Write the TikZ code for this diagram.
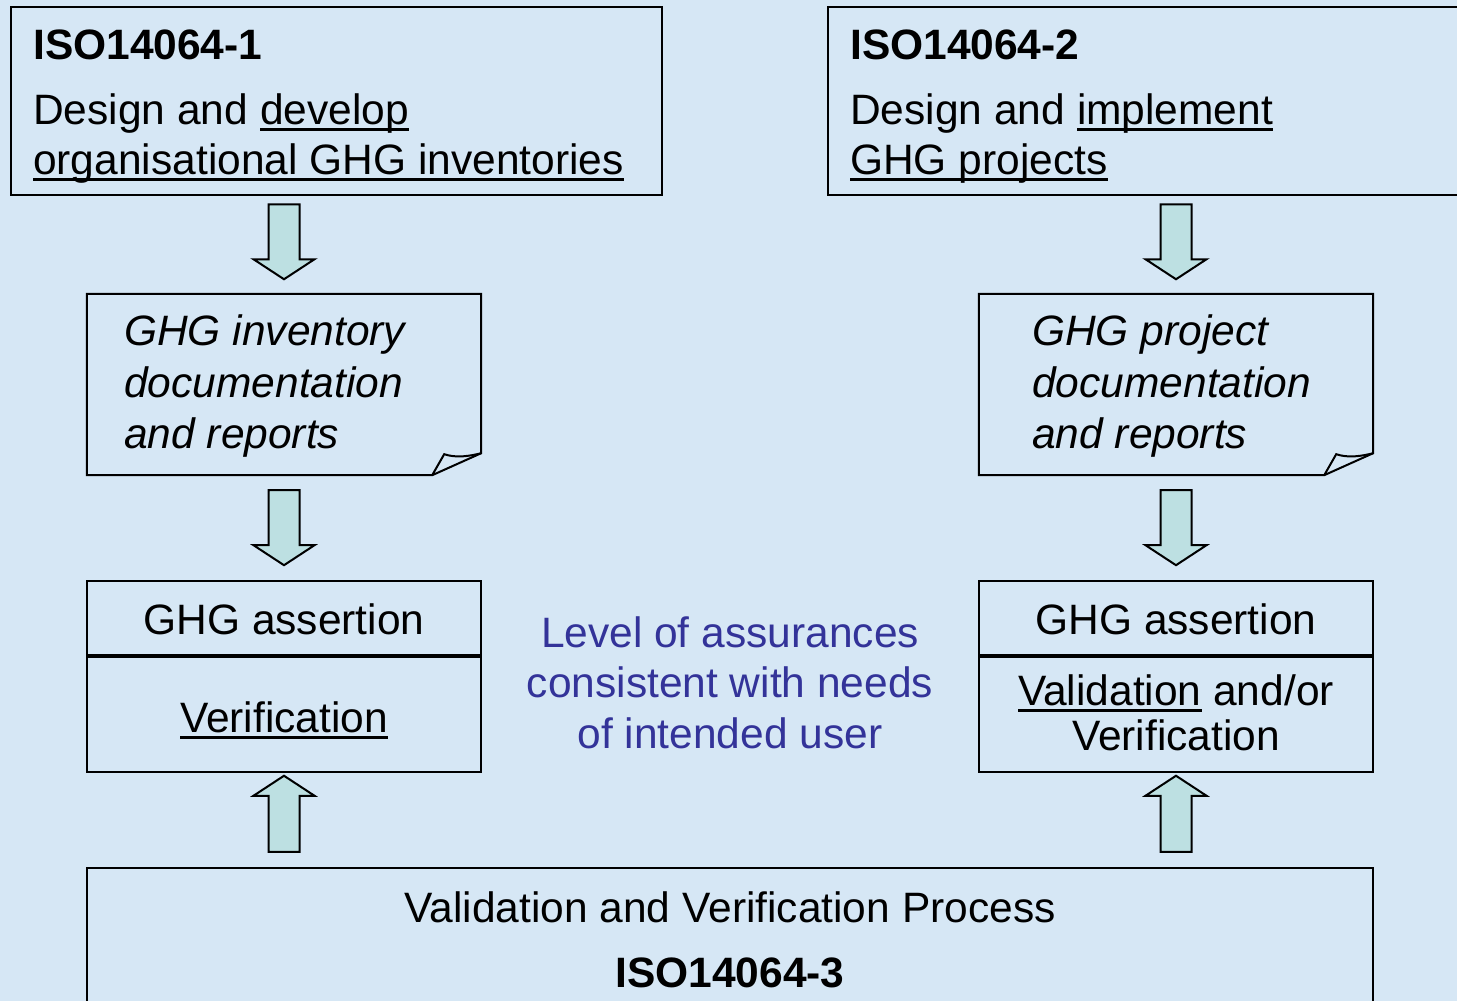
\documentclass[tikz,border=0pt]{standalone}
\usepackage{fontspec}
\setmainfont{Liberation Sans}
\usetikzlibrary{calc}
\definecolor{bgc}{RGB}{214,231,245}
\definecolor{arrc}{RGB}{189,224,226}
\definecolor{bluetxt}{RGB}{51,51,153}
\newcommand\ulx[1]{\setbox0=\hbox{#1}\rlap{\rule[-7pt]{\wd0}{3pt}}\box0\relax}
\tikzset{
  box/.style={draw=black, line width=2.5pt, fill=bgc, rectangle, inner sep=0pt},
  ghost/.style={rectangle, inner sep=0pt},
  txt/.style={inner sep=0pt, font=\fontsize{42.5}{50}\selectfont},
  arrowsty/.style={draw=black, line width=2pt, fill=arrc, line join=miter},
  blockdown/.pic={\draw[arrowsty] (-15.5,0) -- (15.5,0) -- (15.5,55) -- (30.5,55) -- (0,75) -- (-30.5,55) -- (-15.5,55) -- cycle;},
  blockup/.pic={\draw[arrowsty] (-15.5,0) -- (15.5,0) -- (15.5,-56) -- (30.5,-56) -- (0,-76) -- (-30.5,-56) -- (-15.5,-56) -- cycle;},
}
\begin{document}
\begin{tikzpicture}[x=1pt,y=-1pt]
\useasboundingbox (0,0) rectangle (1457,1001);
\fill[bgc] (0,0) rectangle (1457,1001);
\clip (0,0) rectangle (1457,1001);
% top boxes
\node[box, minimum width=651pt, minimum height=188pt] (iso1) at (336.5,101) {};
\node[box, minimum width=652pt, minimum height=188pt] (iso2) at (1154,101) {};
\node[txt, anchor=base west, font=\fontsize{42.5}{50}\selectfont\bfseries] (t1a) at (33,59) {ISO14064-1};
\node[txt, anchor=base west] (t1b) at (33,124) {Design and \ulx{develop}};
\node[txt, anchor=base west] (t1c) at (33,174) {\ulx{organisational GHG inventories}};
\node[txt, anchor=base west, font=\fontsize{42.5}{50}\selectfont\bfseries] (t2a) at (850,59) {ISO14064-2};
\node[txt, anchor=base west] (t2b) at (850,124) {Design and \ulx{implement}};
\node[txt, anchor=base west] (t2c) at (850,174) {\ulx{GHG projects}};
% documents with folded corner
\node[ghost, minimum width=394pt, minimum height=181pt] (doc1) at (284,384.5) {};
\node[ghost, minimum width=394pt, minimum height=181pt] (doc2) at (1176,384.5) {};
\foreach \d in {doc1,doc2}{
  \draw[line width=2pt, fill=bgc, line join=miter]
    (\d.north west) -- (\d.north east) -- ([yshift=22pt]\d.south east)
    -- ([xshift=-49pt]\d.south east) -- (\d.south west) -- cycle;
  \draw[line width=2pt, line join=miter]
    ([xshift=-49pt]\d.south east) -- ([xshift=-37pt,yshift=21pt]\d.south east)
    .. controls ([xshift=-25pt,yshift=17pt]\d.south east) and ([xshift=-12pt,yshift=19pt]\d.south east) .. ([yshift=22pt]\d.south east);
}
\node[txt, anchor=base west, font=\fontsize{42.5}{50}\selectfont\itshape] (d1a) at (124,345) {GHG inventory};
\node[txt, anchor=base west, font=\fontsize{42.5}{50}\selectfont\itshape] (d1b) at (124,397) {documentation};
\node[txt, anchor=base west, font=\fontsize{42.5}{50}\selectfont\itshape] (d1c) at (124,448) {and reports};
\node[txt, anchor=base west, font=\fontsize{42.5}{50}\selectfont\itshape] (d2a) at (1032,345) {GHG project};
\node[txt, anchor=base west, font=\fontsize{42.5}{50}\selectfont\itshape] (d2b) at (1032,397) {documentation};
\node[txt, anchor=base west, font=\fontsize{42.5}{50}\selectfont\itshape] (d2c) at (1032,448) {and reports};
% assertion boxes
\node[box, minimum width=394pt, minimum height=191pt] (as1) at (284,676.5) {};
\node[box, minimum width=394pt, minimum height=191pt] (as2) at (1176,676.5) {};
\draw[line width=4pt] (87,656) -- (481,656);
\draw[line width=4pt] (979,656) -- (1373,656);
\node[txt, anchor=base] (a1a) at (284,634) {GHG assertion};
\node[txt, anchor=base] (a1b) at (284,732) {\ulx{Verification}};
\node[txt, anchor=base] (a2a) at (1176,634) {GHG assertion};
\node[txt, anchor=base] (a2b) at (1176,705) {\ulx{Validation} and/or};
\node[txt, anchor=base] (a2c) at (1176,750) {Verification};
% middle text
\node[txt, anchor=base, text=bluetxt] (m1) at (730,647) {Level of assurances};
\node[txt, anchor=base, text=bluetxt] (m2) at (730,697) {consistent with needs};
\node[txt, anchor=base, text=bluetxt] (m3) at (730,748) {of intended user};
% bottom box
\node[box, minimum width=1286pt, minimum height=170pt] (vv) at (730,953) {};
\node[txt, anchor=base] (b1) at (730,922) {Validation and Verification Process};
\node[txt, anchor=base, font=\fontsize{42.5}{50}\selectfont\bfseries] (b2) at (730,987) {ISO14064-3};
% block arrows
\pic at ($(iso1.south -| doc1.north)+(0,8)$) {blockdown};
\pic at ($(iso2.south -| doc2.north)+(0,8)$) {blockdown};
\pic at ($(doc1.south)+(0,15)$) {blockdown};
\pic at ($(doc2.south)+(0,15)$) {blockdown};
\pic at ($(vv.north -| as1.south)+(0,-15)$) {blockup};
\pic at ($(vv.north -| as2.south)+(0,-15)$) {blockup};
\end{tikzpicture}
\end{document}
